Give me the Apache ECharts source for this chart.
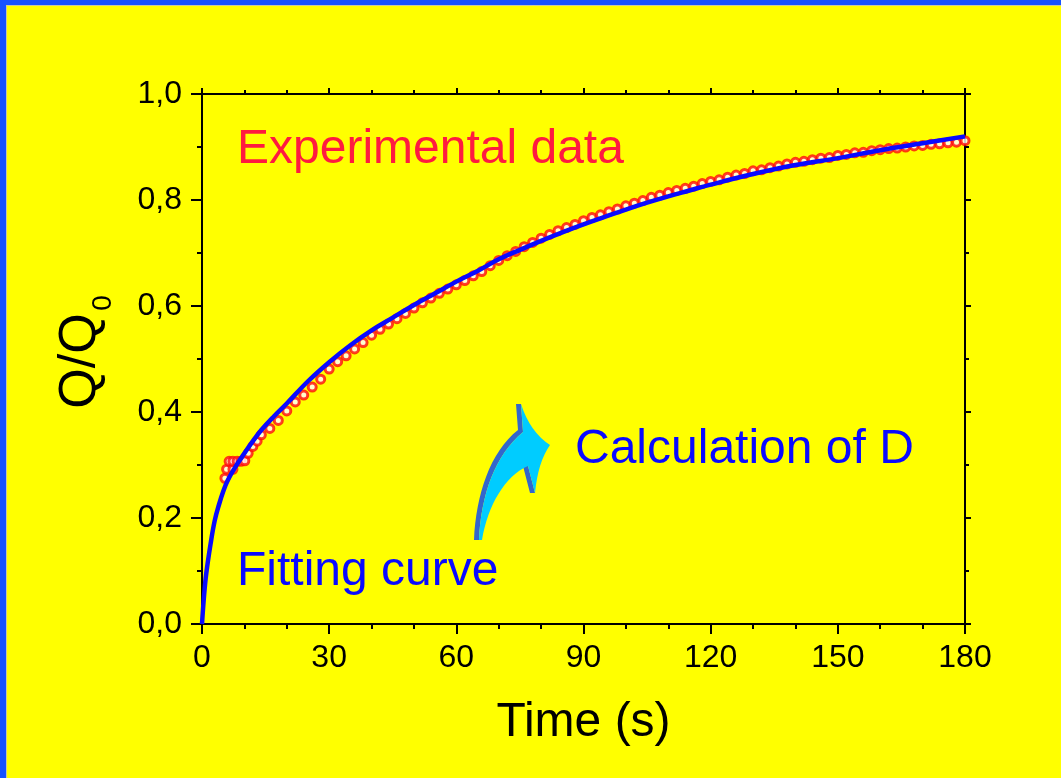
<!DOCTYPE html>
<html>
<head>
<meta charset="utf-8">
<title>Q/Q0 vs Time</title>
<script src="https://cdn.jsdelivr.net/npm/echarts@6/dist/echarts.min.js"></script>
<style>
  html, body { margin: 0; padding: 0; background: #ffff00; }
  #chart { width: 1061px; height: 778px; }
</style>
</head>
<body>
<div id="chart"></div>
<script>
// Fitted desorption curve Q/Q0 against time (s)
const fitTime = [0, 0.5, 1, 2, 3, 4, 5, 6, 8, 10, 12, 14, 17, 20, 25, 30, 35, 40, 45, 50,
  55, 60, 65, 70, 75, 80, 85, 90, 95, 100, 105, 110, 115, 120, 130, 140, 150, 160, 170, 180];
const fitValues = [0, 0.055, 0.095, 0.15, 0.195, 0.225, 0.25, 0.27, 0.298, 0.322, 0.345, 0.366, 0.392, 0.416, 0.458, 0.494, 0.526, 0.554, 0.578, 0.602,
  0.624, 0.646, 0.666, 0.688, 0.706, 0.723, 0.739, 0.754, 0.768, 0.782, 0.795, 0.807, 0.818, 0.829, 0.849, 0.866, 0.879, 0.894, 0.907, 0.92];

// Measured points Q/Q0 against time (s)
const expTime = [5.4, 5.8, 6.4, 7.3, 7.3, 8.3, 9.2, 10.1, 10.9, 12, 13, 14,
  16, 18, 20, 22, 24, 26, 28, 30, 32, 34, 36, 38, 40, 42, 44, 46, 48, 50,
  52, 54, 56, 58, 60, 62, 64, 66, 68, 70, 72, 74, 76, 78, 80, 82, 84, 86, 88, 90,
  92, 94, 96, 98, 100, 102, 104, 106, 108, 110, 112, 114, 116, 118, 120, 122, 124, 126, 128, 130,
  132, 134, 136, 138, 140, 142, 144, 146, 148, 150, 152, 154, 156, 158, 160, 162, 164, 166, 168, 170,
  172, 174, 176, 178, 180];
const expValues = [0.275, 0.292, 0.307, 0.292, 0.307, 0.307, 0.307, 0.308, 0.322, 0.335, 0.345, 0.357,
  0.369, 0.384, 0.402, 0.419, 0.432, 0.447, 0.462, 0.481, 0.495, 0.506, 0.519, 0.531, 0.545, 0.556, 0.566, 0.576, 0.586, 0.596,
  0.606, 0.615, 0.624, 0.632, 0.640, 0.648, 0.657, 0.665, 0.676, 0.686, 0.695, 0.703, 0.712, 0.720, 0.728, 0.735, 0.742, 0.748, 0.754, 0.761,
  0.767, 0.772, 0.778, 0.783, 0.789, 0.794, 0.799, 0.805, 0.809, 0.814, 0.818, 0.822, 0.826, 0.831, 0.835, 0.838, 0.843, 0.847, 0.850, 0.855,
  0.857, 0.861, 0.864, 0.868, 0.871, 0.873, 0.876, 0.879, 0.880, 0.884, 0.886, 0.889, 0.890, 0.893, 0.895, 0.897, 0.898, 0.900, 0.902, 0.903,
  0.905, 0.906, 0.908, 0.909, 0.912];

// Axis ranges and steps
const xRange = [0, 180], xStep = 30;
const yRange = [0, 1], yStep = 0.2;

const FONT = "'Liberation Sans', Arial, sans-serif";
const BLUE_FRAME = '#1652ff';
const PLOT_BG = '#ffff00';

const chart = echarts.init(document.getElementById('chart'));

const fitData = fitTime.map((t, i) => [t, fitValues[i]]);
const expData = expTime.map((t, i) => [t, expValues[i]]);

function xAxisDef(position, showLabels, tickLen, minorLen) {
  return {
    type: 'value', position: position, min: xRange[0], max: xRange[1], interval: xStep,
    axisLine: { show: true, onZero: false, lineStyle: { color: '#000', width: 2 } },
    axisTick: { show: true, inside: false, length: tickLen, lineStyle: { color: '#000', width: 2 } },
    minorTick: { show: true, splitNumber: 3, length: minorLen, lineStyle: { color: '#000', width: 2 } },
    splitLine: { show: false },
    axisLabel: { show: showLabels, color: '#000', fontFamily: FONT, fontSize: 32, margin: 18 }
  };
}
function yAxisDef(position, showLabels, tickLen, minorLen) {
  return {
    type: 'value', position: position, min: yRange[0], max: yRange[1], interval: yStep,
    axisLine: { show: true, onZero: false, lineStyle: { color: '#000', width: 2 } },
    axisTick: { show: true, inside: false, length: tickLen, lineStyle: { color: '#000', width: 2 } },
    minorTick: { show: true, splitNumber: 2, length: minorLen, lineStyle: { color: '#000', width: 2 } },
    splitLine: { show: false },
    axisLabel: {
      show: showLabels, color: '#000', fontFamily: FONT, fontSize: 32, margin: 20,
      formatter: v => v.toFixed(1).replace('.', ',')
    }
  };
}

const xBottom = xAxisDef('bottom', true, 10, 5);
xBottom.name = 'Time (s)';
xBottom.nameLocation = 'middle';
xBottom.nameGap = 75;
xBottom.nameTextStyle = { color: '#000', fontFamily: FONT, fontSize: 48 };

chart.setOption({
  backgroundColor: PLOT_BG,
  animation: false,
  grid: { left: 202, right: 96, top: 94, bottom: 154, containLabel: false },
  xAxis: [xBottom, xAxisDef('top', false, 6, 4)],
  yAxis: [yAxisDef('left', true, 11, 5), yAxisDef('right', false, 6, 4)],
  series: [
    {
      name: 'Experimental data', type: 'scatter', xAxisIndex: 0, yAxisIndex: 0,
      data: expData, symbol: 'circle', symbolSize: 8, z: 2,
      itemStyle: { color: '#ffffff', borderColor: '#ff0a0a', borderWidth: 3 }
    },
    {
      name: 'Fitting curve', type: 'line', xAxisIndex: 0, yAxisIndex: 0,
      data: fitData, showSymbol: false, smooth: 0.4, z: 3,
      lineStyle: { color: '#0a0aff', width: 4.5 }
    }
  ],
  graphic: [
    { type: 'rect', shape: { x: 0, y: 0, width: 1061, height: 5 }, style: { fill: BLUE_FRAME }, z: 100 },
    { type: 'rect', shape: { x: 0, y: 0, width: 6, height: 778 }, style: { fill: BLUE_FRAME }, z: 100 },
    { type: 'polyline', shape: { points: [[6.5, 778], [6.5, 5.5], [1061, 5.5]] }, style: { stroke: '#c8c8a0', lineWidth: 1, fill: null }, z: 100 },
    {
      type: 'text', x: 81, y: 361, rotation: Math.PI / 2,
      style: { text: 'Q/Q', fill: '#000', font: '52px ' + FONT, align: 'center', verticalAlign: 'middle' }, z: 50
    },
    {
      type: 'text', x: 103, y: 303, rotation: Math.PI / 2,
      style: { text: '0', fill: '#000', font: '28px ' + FONT, align: 'center', verticalAlign: 'middle' }, z: 50
    },
    {
      type: 'text', x: 237, y: 150,
      style: { text: 'Experimental data', fill: '#ff1a40', font: '48px ' + FONT, align: 'left', verticalAlign: 'middle' }, z: 50
    },
    {
      type: 'text', x: 237, y: 572,
      style: { text: 'Fitting curve', fill: '#0a0aff', font: '48px ' + FONT, align: 'left', verticalAlign: 'middle' }, z: 50
    },
    {
      type: 'text', x: 575, y: 450,
      style: { text: 'Calculation of D', fill: '#0a0aff', font: '48px ' + FONT, align: 'left', verticalAlign: 'middle' }, z: 50
    }
  ]
});

// Curved arrow pointing from the fit towards the result (shadow strip, then cyan body)
const arrowShadow = 'M474 540 C476 495 490 452 518 430 L516 404 L521 404 L523 432 C495 455 481 495 479 540 Z ' +
  'M523 466 L530 493 L535 493 L528 466 Z';
const arrowBody = 'M479 540 C481 495 495 455 523 432 L521 404 Q530 432 550 445 Q538 462 535 493 L528 466 C505 476 488 505 482 540 Z';
const zr = chart.getZr();
zr.add(echarts.graphic.makePath(arrowShadow, { style: { fill: '#3366cc' }, z: 40 }));
zr.add(echarts.graphic.makePath(arrowBody, { style: { fill: '#00ccff' }, z: 41 }));
</script>
</body>
</html>
